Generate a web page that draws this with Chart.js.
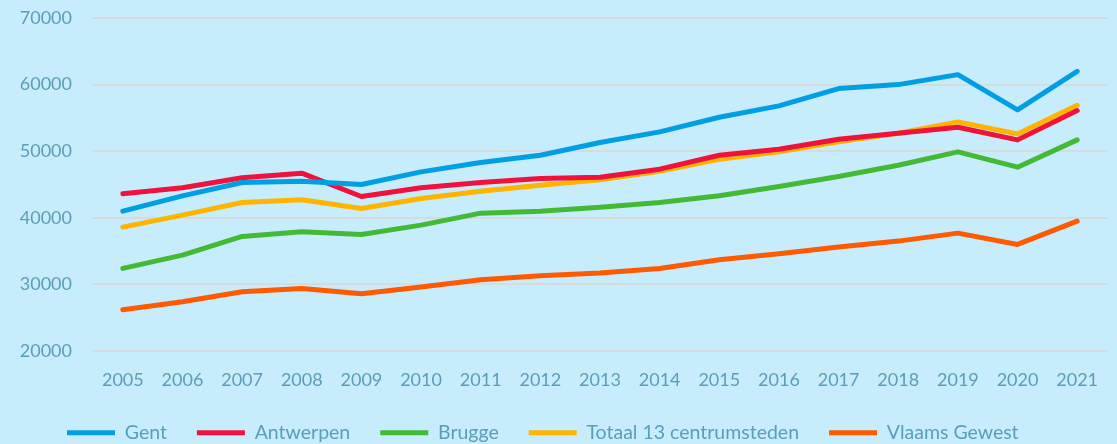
<!DOCTYPE html>
<html>
<head>
<meta charset="utf-8">
<script src="https://cdn.jsdelivr.net/npm/chart.js@4.4.1/dist/chart.umd.min.js"></script>
<style>
  html, body { margin: 0; padding: 0; background: #C7EDFD; }
  #wrap { width: 1117px; height: 444px; position: relative; }
</style>
</head>
<body>
<div id="wrap"><canvas id="chart"></canvas></div>
<script>
// Data
const years = ['2005', '2006', '2007', '2008', '2009', '2010', '2011', '2012', '2013',
               '2014', '2015', '2016', '2017', '2018', '2019', '2020', '2021'];
const gent      = [41000, 43300, 45300, 45500, 45000, 46900, 48300, 49400, 51300, 52900, 55100, 56800, 59400, 60000, 61500, 56200, 62000];
const antwerpen = [43600, 44500, 46000, 46700, 43200, 44500, 45300, 45900, 46100, 47300, 49400, 50300, 51800, 52700, 53600, 51700, 56100];
const brugge    = [32400, 34400, 37200, 37900, 37500, 38900, 40700, 41000, 41600, 42300, 43300, 44700, 46200, 47900, 49900, 47600, 51700];
const totaal    = [38600, 40400, 42300, 42700, 41400, 42900, 44000, 44900, 45700, 47000, 48800, 49900, 51400, 52700, 54400, 52600, 56900];
const vlaams    = [26200, 27400, 28900, 29400, 28600, 29600, 30700, 31300, 31700, 32400, 33700, 34600, 35600, 36500, 37700, 36000, 39500];

const textColor = '#5C9DB7';
const fontFamily = 'Lato, "Open Sans", sans-serif';

function series(label, data, color) {
    return {
        label: label,
        data: data,
        borderColor: color,
        backgroundColor: color,
        borderWidth: 5,
        borderCapStyle: 'round',
        borderJoinStyle: 'round',
        pointRadius: 0,
        pointStyle: 'line',
        tension: 0,
        fill: false
    };
}

// legend sits low and starts near the left edge, like the original
const legendFit = {
    id: 'legendFit',
    beforeUpdate: function(chart) {
        const lg = chart.legend;
        if (lg && !lg._fixed) {
            const fit = lg.fit;
            lg.fit = function() {
                fit.call(this);
                this.height = 51;
                this.lineWidths = [1040];
            };
            lg._fixed = true;
        }
    }
};

const ctx = document.getElementById('chart');
new Chart(ctx, {
    type: 'line',
    data: {
        labels: years,
        datasets: [
            series('Gent', gent, '#009FE3'),
            series('Antwerpen', antwerpen, '#F0123C'),
            series('Brugge', brugge, '#43BA35'),
            series('Totaal 13 centrumsteden', totaal, '#FFB400'),
            series('Vlaams Gewest', vlaams, '#FF5A00')
        ]
    },
    plugins: [legendFit],
    options: {
        responsive: true,
        maintainAspectRatio: false,
        animation: false,
        layout: { padding: { top: 18, right: 10, left: 0, bottom: 0 } },
        plugins: {
            tooltip: { enabled: false },
            legend: {
                position: 'bottom',
                align: 'end',
                labels: {
                    usePointStyle: true,
                    pointStyleWidth: 48,
                    boxHeight: 5,
                    padding: 30,
                    color: textColor,
                    font: { family: fontFamily, size: 19.5 }
                }
            }
        },
        scales: {
            x: {
                offset: true,
                grid: { display: false },
                border: { display: false },
                ticks: {
                    color: textColor,
                    font: { family: fontFamily, size: 18 },
                    maxRotation: 0,
                    padding: 10
                },
                afterFit: function(scale) { scale.height = 42; }
            },
            y: {
                min: 20000,
                max: 70000,
                border: { display: false },
                grid: { color: '#D6DBDE', lineWidth: 2, drawTicks: true, tickLength: 21, tickColor: 'rgba(0,0,0,0)' },
                ticks: {
                    stepSize: 10000,
                    color: textColor,
                    font: { family: fontFamily, size: 18 },
                    padding: 0,
                    callback: function(v) { return String(v); }
                },
                afterFit: function(scale) { scale.width = 93; }
            }
        }
    }
});
</script>
</body>
</html>
